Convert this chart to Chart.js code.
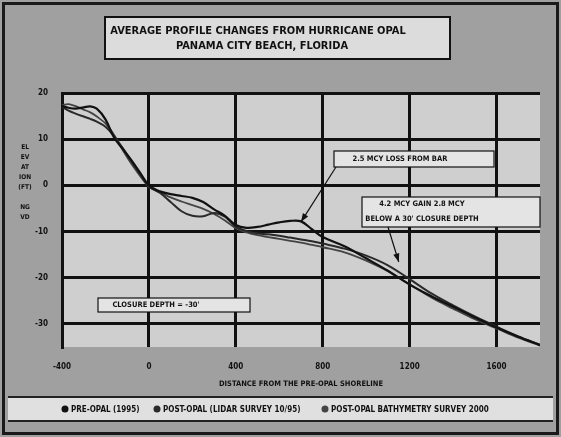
<!DOCTYPE html>
<html>
<head>
<meta charset="utf-8">
<script src="https://cdn.jsdelivr.net/npm/chart.js@4.4.0/dist/chart.umd.min.js"></script>
<style>
  html, body { margin: 0; padding: 0; background: #a0a0a0; }
  #wrap { width: 561px; height: 437px; }
</style>
</head>
<body>
<div id="wrap"><canvas id="profileChart" width="561" height="437"></canvas></div>
<script>
// distance from the pre-Opal shoreline (ft)
var distance = [-400,-370,-340,-300,-270,-240,-200,-160,-120,-80,-40,0,50,100,150,200,250,300,350,400,
                450,500,550,600,650,700,750,800,900,1000,1100,1200,1300,1400,1500,1600,1700,1800];

// average profile elevations (ft NGVD)
var preOpal = [17.2,16.8,16.6,16.9,17.1,16.6,14.3,10.3,7.9,5.4,2.7,0.0,-1.3,-1.9,-2.3,-2.7,-3.6,-5.2,-6.6,-8.6,
               -9.2,-9.0,-8.5,-8.0,-7.7,-7.8,-9.5,-11.2,-13.2,-15.8,-18.5,-21.5,-24.0,-26.3,-28.6,-30.8,-32.8,-34.6];
var postOpalLidar = [17.0,16.2,15.6,14.9,14.4,13.8,12.7,10.6,8.0,5.1,2.4,-0.2,-1.6,-3.6,-5.6,-6.6,-6.7,-6.0,-6.8,-9.0,
               -9.9,-10.4,-10.6,-10.9,-11.3,-11.7,-12.1,-12.6,-13.7,-15.2,-17.3,-20.3,-23.4,-26.0,-28.4,-30.6,-32.7,-34.5];
var postOpalBathy = [17.4,17.6,17.2,16.4,15.8,14.9,13.4,10.9,7.6,4.6,2.0,-0.3,-1.5,-2.6,-3.5,-4.3,-5.1,-6.2,-7.6,-9.3,
               -10.2,-10.8,-11.2,-11.6,-12.0,-12.4,-12.9,-13.4,-14.5,-16.3,-18.6,-21.4,-24.3,-26.7,-29.0,-31.0,-33.0,-34.7];

var seriesLabels = ['PRE-OPAL (1995)', 'POST-OPAL (LIDAR SURVEY 10/95)', 'POST-OPAL BATHYMETRY SURVEY 2000'];
var xTicks = [-400, 0, 400, 800, 1200, 1600];
var yTicks = [-30, -20, -10, 0, 10, 20];

var titleLines = ['AVERAGE PROFILE CHANGES FROM HURRICANE OPAL', 'PANAMA CITY BEACH, FLORIDA'];
var yTitle = ['EL', 'EV', 'AT', 'ION', '(FT)', '', 'NG', 'VD'];
var xTitle = 'DISTANCE FROM THE PRE-OPAL SHORELINE';
// box = [left, top, width, height], cx = text centre, from = arrow start (px), to = arrow tip (data)
var notes = [
  { lines: ['2.5 MCY LOSS FROM BAR'], box: [334, 151, 160, 16], cx: 400, from: [336, 167], to: [700, -7.9] },
  { lines: ['4.2 MCY GAIN 2.8 MCY', "BELOW A 30' CLOSURE DEPTH"], box: [362, 197, 178, 30], cx: 422, from: [388, 227], to: [1150, -16.6] },
  { lines: ["CLOSURE DEPTH = -30'"], box: [98, 298, 152, 14], cx: 156 }
];

var FONT = "'Liberation Sans Narrow', 'DejaVu Sans Condensed', Arial, sans-serif";

function pts(ys) {
  return distance.map(function (d, i) { return { x: d, y: ys[i] }; });
}

var backdrop = {
  id: 'backdrop',
  beforeDraw: function (chart) {
    var c = chart.ctx, a = chart.chartArea;
    c.save();
    c.fillStyle = '#a0a0a0';
    c.fillRect(0, 0, chart.width, chart.height);
    c.fillStyle = '#cfcfcf';
    c.fillRect(a.left, a.top, a.right - a.left, a.bottom - a.top);
    c.restore();
  },
  afterDraw: function (chart) {
    var c = chart.ctx;
    var sx = chart.scales.x, sy = chart.scales.y;
    c.save();

    // outer frame
    c.strokeStyle = '#1a1a1a';
    c.lineWidth = 3;
    c.strokeRect(3.5, 3.5, 554, 430);

    // title box
    c.fillStyle = '#dcdcdc';
    c.fillRect(105, 17, 345, 42);
    c.lineWidth = 2;
    c.strokeStyle = '#111';
    c.strokeRect(105, 17, 345, 42);
    c.fillStyle = '#111';
    c.font = 'bold 11px ' + FONT;
    c.textAlign = 'center';
    c.textBaseline = 'middle';
    c.fillText(titleLines[0], 258, 31);
    c.fillText(titleLines[1], 262, 46);

    // stacked y title
    c.font = 'bold 6.5px ' + FONT;
    yTitle.forEach(function (t, i) { c.fillText(t, 25, 147 + i * 10); });

    // notes with arrows
    notes.forEach(function (n) {
      var b = n.box;
      c.fillStyle = '#e4e4e4';
      c.fillRect(b[0], b[1], b[2], b[3]);
      c.lineWidth = 1.2;
      c.strokeStyle = '#111';
      c.strokeRect(b[0], b[1], b[2], b[3]);
      c.fillStyle = '#111';
      c.font = 'bold 7.5px ' + FONT;
      c.textAlign = 'center';
      n.lines.forEach(function (t, i) {
        c.fillText(t, n.cx, b[1] + b[3] / (n.lines.length * 2) * (2 * i + 1));
      });
      if (n.to) {
        var tx = sx.getPixelForValue(n.to[0]), ty = sy.getPixelForValue(n.to[1]);
        var ang = Math.atan2(ty - n.from[1], tx - n.from[0]);
        c.beginPath();
        c.moveTo(n.from[0], n.from[1]);
        c.lineTo(tx, ty);
        c.stroke();
        c.beginPath();
        c.moveTo(tx, ty);
        c.lineTo(tx - 9 * Math.cos(ang - 0.35), ty - 9 * Math.sin(ang - 0.35));
        c.lineTo(tx - 9 * Math.cos(ang + 0.35), ty - 9 * Math.sin(ang + 0.35));
        c.closePath();
        c.fill();
      }
    });

    // legend band
    c.fillStyle = '#e0e0e0';
    c.fillRect(8, 397, 545, 24);
    c.lineWidth = 2;
    c.strokeStyle = '#222';
    c.beginPath();
    c.moveTo(8, 397); c.lineTo(553, 397);
    c.moveTo(8, 421); c.lineTo(553, 421);
    c.stroke();
    var lx = [65, 157, 325];
    c.font = 'bold 8px ' + FONT;
    c.textAlign = 'left';
    chart.data.datasets.forEach(function (ds, i) {
      c.fillStyle = ds.borderColor;
      c.beginPath();
      c.arc(lx[i], 409, 3.5, 0, Math.PI * 2);
      c.fill();
      c.fillStyle = '#111';
      c.fillText(ds.label, lx[i] + 6, 409.5);
    });
    c.restore();
  }
};

new Chart(document.getElementById('profileChart').getContext('2d'), {
  type: 'scatter',
  data: {
    datasets: [{
      label: seriesLabels[0],
      data: pts(preOpal),
      borderColor: '#111111',
      borderWidth: 2.2
    }, {
      label: seriesLabels[1],
      data: pts(postOpalLidar),
      borderColor: '#2a2a2a',
      borderWidth: 2
    }, {
      label: seriesLabels[2],
      data: pts(postOpalBathy),
      borderColor: '#444444',
      borderWidth: 1.8
    }].map(function (ds) {
      ds.showLine = true;
      ds.pointRadius = 0;
      ds.tension = 0.35;
      ds.fill = false;
      return ds;
    })
  },
  plugins: [backdrop],
  options: {
    responsive: false,
    animation: false,
    layout: { padding: { left: 32, right: 21, top: 93, bottom: 40 } },
    plugins: {
      legend: { display: false },
      tooltip: { enabled: false }
    },
    scales: {
      x: {
        type: 'linear',
        min: -400,
        max: 1800,
        afterBuildTicks: function (s) { s.ticks = xTicks.map(function (v) { return { value: v }; }); },
        afterFit: function (s) { s.height = 50; },
        grid: { color: '#111', lineWidth: 3, drawTicks: false },
        border: { display: false },
        ticks: {
          color: '#111', font: { family: FONT, size: 8, weight: 'bold' }, padding: 15, maxRotation: 0,
          callback: function (v) { return String(v); }
        },
        title: { display: true, text: xTitle, color: '#111', font: { family: FONT, size: 7.5, weight: 'bold' }, padding: { top: 0, bottom: 8 } }
      },
      y: {
        min: -35,
        max: 20,
        afterBuildTicks: function (s) { s.ticks = yTicks.map(function (v) { return { value: v }; }); },
        afterFit: function (s) { s.width = 30; },
        grid: { color: '#111', lineWidth: 3, drawTicks: false },
        border: { display: true, color: '#111', width: 3 },
        ticks: { color: '#111', font: { family: FONT, size: 8, weight: 'bold' }, padding: 14 }
      }
    }
  }
});
</script>
</body>
</html>
